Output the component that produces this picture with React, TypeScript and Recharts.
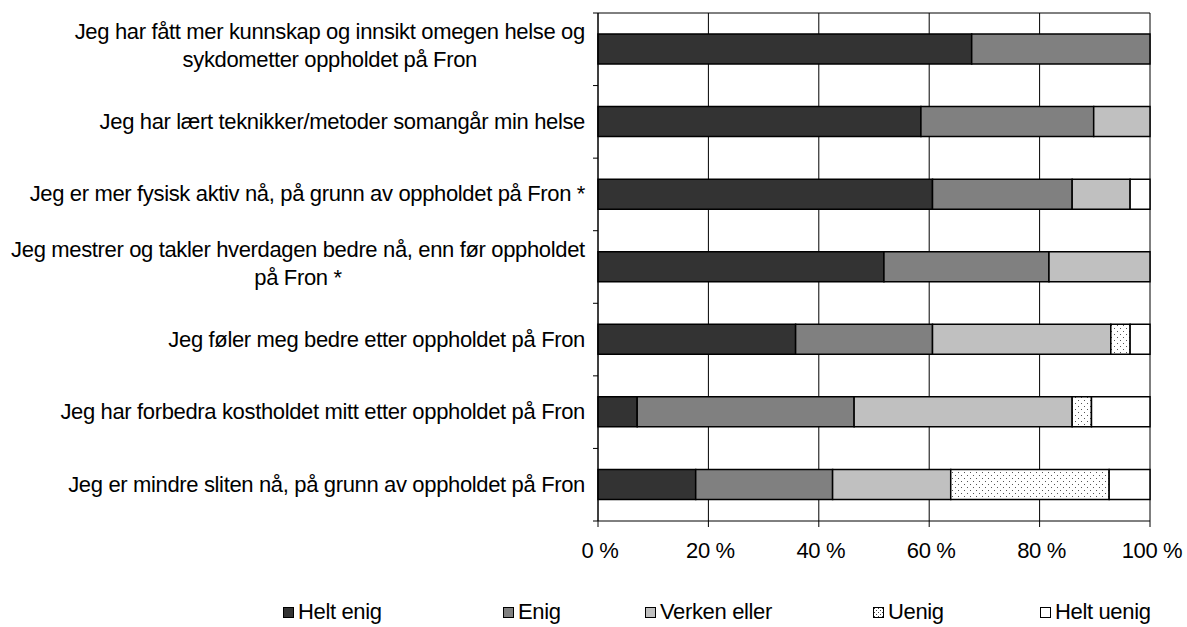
import React from 'react';
import { BarChart, Bar, XAxis, YAxis, CartesianGrid, Legend } from 'recharts';

// ---------- data ----------
const categories: string[] = [
  'Jeg har fått mer kunnskap og innsikt omegen helse og\nsykdometter oppholdet på Fron',
  'Jeg har lært teknikker/metoder somangår min helse',
  'Jeg er mer fysisk aktiv nå, på grunn av oppholdet på Fron *',
  'Jeg mestrer og takler hverdagen bedre nå, enn før oppholdet\npå Fron *',
  'Jeg føler meg bedre etter oppholdet på Fron',
  'Jeg har forbedra kostholdet mitt etter oppholdet på Fron',
  'Jeg er mindre sliten nå, på grunn av oppholdet på Fron',
];
const heltEnig = [67.7, 58.5, 60.6, 51.8, 35.8, 7.1, 17.7];
const enig = [32.3, 31.3, 25.3, 29.9, 24.8, 39.3, 24.8];
const verken = [0, 10.2, 10.5, 18.3, 32.3, 39.5, 21.4];
const uenig = [0, 0, 0, 0, 3.5, 3.5, 28.7];
const heltUenig = [0, 0, 3.6, 0, 3.6, 10.6, 7.4];
const seriesNames = ['Helt enig', 'Enig', 'Verken eller', 'Uenig', 'Helt uenig'];
const xTicks = [0, 20, 40, 60, 80, 100];

// ---------- style / layout ----------
const W = 1187;
const H = 627;
const MARGIN = { top: 13, right: 37, bottom: 56, left: 0 };
const X_AXIS_H = 50;
const Y_AXIS_W = 598;
const FONT = '"Liberation Sans", Arial, sans-serif';
const FONT_SIZE = 22;
const LS = -0.35;
const fills = ['#333333', '#808080', '#c0c0c0', 'url(#dotsPattern)', '#ffffff'];
const legendLeft = [283, 503, 645, 873, 1040];
const PLOT_H = H - MARGIN.top - MARGIN.bottom - X_AXIS_H;
const HALF_BAND = PLOT_H / categories.length / 2;

const keys = ['heltEnig', 'enig', 'verken', 'uenig', 'heltUenig'];
const data = categories.map((name, i) => ({
  name,
  heltEnig: heltEnig[i],
  enig: enig[i],
  verken: verken[i],
  uenig: uenig[i],
  heltUenig: heltUenig[i],
}));

let ctx: CanvasRenderingContext2D | null = null;
function measure(t: string): number {
  if (!ctx) ctx = document.createElement('canvas').getContext('2d');
  if (!ctx) return t.length * 9;
  ctx.font = `${FONT_SIZE}px "Liberation Sans"`;
  return ctx.measureText(t).width + (t.length - 1) * LS;
}

const textStyle = { letterSpacing: `${LS}px` };

function YTick(props: any) {
  const { x, y, payload, index } = props;
  const lines = String(payload.value).split('\n');
  const last = index === categories.length - 1;
  let textEls;
  if (lines.length === 1) {
    textEls = (
      <text x={x} y={y + 7} textAnchor="end" fontFamily={FONT} fontSize={FONT_SIZE} fill="#000" style={textStyle}>
        {lines[0]}
      </text>
    );
  } else {
    const maxW = Math.max(...lines.map(measure));
    const cx = x - maxW / 2;
    textEls = lines.map((l, i) => (
      <text
        key={i}
        x={cx}
        y={y - 17 + i * 28 + 7}
        textAnchor="middle"
        fontFamily={FONT}
        fontSize={FONT_SIZE}
        fill="#000"
        style={textStyle}
      >
        {l}
      </text>
    ));
  }
  return (
    <g>
      <line x1={x + 8} x2={x + 13} y1={y - HALF_BAND} y2={y - HALF_BAND} stroke="#000" />
      {last && <line x1={x + 8} x2={x + 13} y1={y + HALF_BAND} y2={y + HALF_BAND} stroke="#000" />}
      {textEls}
    </g>
  );
}

function XTick(props: any) {
  const { x, y, payload } = props;
  return (
    <text x={x + 2} y={y + 31} textAnchor="middle" fontFamily={FONT} fontSize={FONT_SIZE} fill="#000" style={textStyle}>
      {`${payload.value} %`}
    </text>
  );
}

function LegendContent() {
  return (
    <div
      style={{
        position: 'relative',
        width: W,
        height: 28,
        fontFamily: FONT,
        fontSize: FONT_SIZE,
        letterSpacing: `${LS}px`,
        color: '#000',
      }}
    >
      {seriesNames.map((n, i) => (
        <div
          key={n}
          style={{ position: 'absolute', left: legendLeft[i], top: 0, height: 28, display: 'flex', alignItems: 'center' }}
        >
          <svg width={11} height={11} style={{ marginRight: 4, display: 'block' }}>
            <defs>
              <pattern id={`legDots${i}`} width={4} height={4} patternUnits="userSpaceOnUse">
                <rect width={4} height={4} fill="#fff" />
                <rect x={1} y={1} width={1} height={1} fill="#444" />
                <rect x={3} y={3} width={1} height={1} fill="#444" />
              </pattern>
            </defs>
            <rect
              x={0.5}
              y={0.5}
              width={10}
              height={10}
              fill={i === 3 ? `url(#legDots${i})` : fills[i]}
              stroke="#000"
            />
          </svg>
          <span style={{ whiteSpace: 'nowrap', lineHeight: '28px' }}>{n}</span>
        </div>
      ))}
    </div>
  );
}

export default function App() {
  return (
    <div style={{ position: 'absolute', left: 0, top: 0, width: W, height: H, background: '#fff' }}>
      <BarChart width={W} height={H} data={data} layout="vertical" margin={MARGIN} barSize={30}>
        <defs>
          <pattern id="dotsPattern" width={6} height={6} patternUnits="userSpaceOnUse">
            <rect width={6} height={6} fill="#fff" />
            <rect x={1} y={1} width={1} height={1} fill="#555" />
            <rect x={4} y={4} width={1} height={1} fill="#555" />
          </pattern>
        </defs>
        <CartesianGrid
          stroke="#000"
          strokeWidth={1}
          horizontalCoordinatesGenerator={(p: any) => [p.offset.top]}
        />
        <XAxis
          type="number"
          domain={[0, 100]}
          ticks={xTicks}
          height={X_AXIS_H}
          tickSize={6}
          tickMargin={0}
          axisLine={{ stroke: '#000' }}
          tickLine={{ stroke: '#000' }}
          tick={<XTick />}
          interval={0}
        />
        <YAxis
          type="category"
          dataKey="name"
          width={Y_AXIS_W}
          tickSize={5}
          tickMargin={8}
          tickLine={false}
          axisLine={{ stroke: '#000' }}
          tick={<YTick />}
          interval={0}
        />
        {keys.map((k, i) => (
          <Bar
            key={k}
            dataKey={k}
            name={seriesNames[i]}
            stackId="a"
            fill={fills[i]}
            stroke="#000"
            strokeWidth={1.5}
            isAnimationActive={false}
          />
        ))}
        <Legend
          layout="horizontal"
          verticalAlign="middle"
          align="center"
          wrapperStyle={{ position: 'absolute', left: 0, top: 598, width: W, height: 28 }}
          content={() => <LegendContent />}
        />
      </BarChart>
    </div>
  );
}
